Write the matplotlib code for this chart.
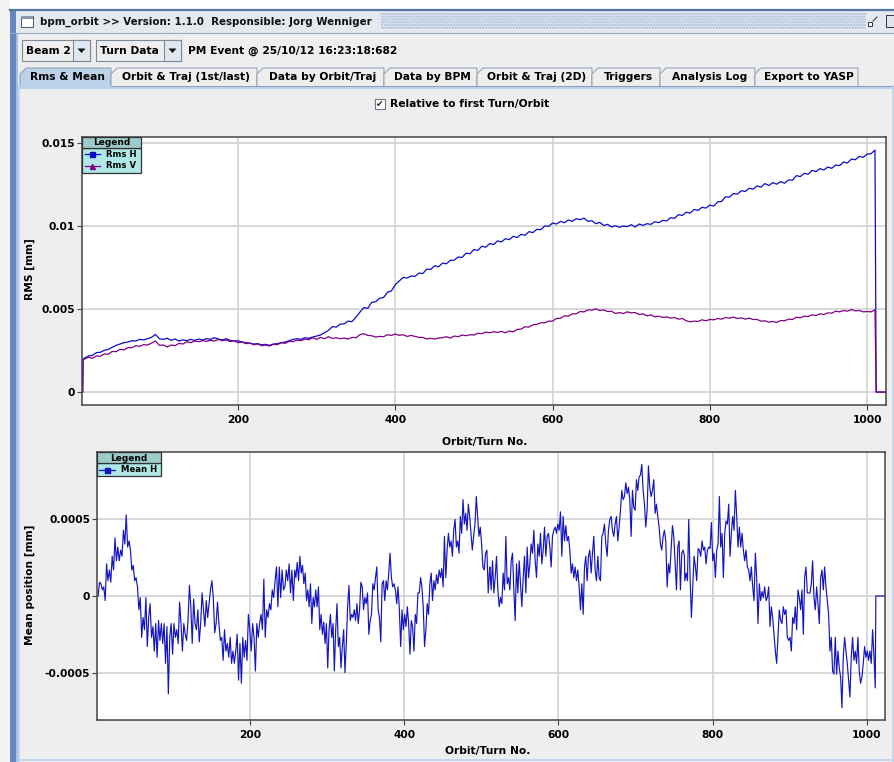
import numpy as np
import matplotlib
matplotlib.use('Agg')
import matplotlib.pyplot as plt
from matplotlib.patches import Rectangle, Polygon

plt.rcParams['font.family'] = ['DejaVu Sans']
plt.rcParams['font.weight'] = 'bold'
plt.rcParams['hatch.linewidth'] = 1.0

W, H = 895, 762

# ---------------- data ----------------
# RMS values in units of 1e-3 mm, every 5 turns from turn 5 to 1010
rms_h_core = [
    2.05, 2.18, 2.22, 2.38, 2.40, 2.52, 2.58, 2.70, 2.82, 2.90,
    2.98, 3.02, 3.10, 3.08, 3.18, 3.15, 3.22, 3.30, 3.48, 3.22,
    3.18, 3.25, 3.12, 3.20, 3.08, 3.15, 3.10, 3.18, 3.12, 3.20,
    3.14, 3.22, 3.18, 3.28, 3.20, 3.15, 3.22, 3.12, 3.08, 3.10,
    3.02, 2.98, 2.95, 2.90, 2.92, 2.85, 2.88, 2.82, 2.90, 2.92,
    2.98, 3.02, 3.10, 3.18, 3.22, 3.18, 3.28, 3.25, 3.32, 3.38,
    3.45, 3.58, 3.72, 3.95, 3.92, 4.10, 4.12, 4.28, 4.25, 4.52,
    4.82, 5.10, 5.05, 5.42, 5.45, 5.66, 5.70, 6.02, 6.10, 6.48,
    6.70, 6.92, 6.88, 7.00, 6.98, 7.18, 7.15, 7.42, 7.40, 7.62,
    7.56, 7.78, 7.74, 7.95, 7.96, 8.15, 8.12, 8.38, 8.35, 8.60,
    8.55, 8.80, 8.74, 8.96, 8.90, 9.12, 9.06, 9.25, 9.20, 9.40,
    9.32, 9.52, 9.46, 9.68, 9.62, 9.82, 9.80, 10.02, 10.00, 10.20,
    10.14, 10.30, 10.22, 10.38, 10.30, 10.46, 10.40, 10.50, 10.30, 10.34,
    10.16, 10.24, 10.05, 10.12, 9.96, 10.04, 9.94, 10.02, 9.98, 10.10,
    9.96, 10.14, 10.06, 10.16, 10.12, 10.28, 10.22, 10.36, 10.32, 10.52,
    10.48, 10.70, 10.66, 10.85, 10.80, 11.02, 10.96, 11.15, 11.10, 11.28,
    11.22, 11.48, 11.50, 11.78, 11.76, 11.98, 11.94, 12.15, 12.10, 12.30,
    12.24, 12.44, 12.36, 12.58, 12.46, 12.64, 12.54, 12.70, 12.60, 12.80,
    12.78, 13.06, 13.00, 13.20, 13.14, 13.38, 13.30, 13.48, 13.40, 13.58,
    13.50, 13.70, 13.66, 13.88, 13.82, 14.06, 14.02, 14.22, 14.16, 14.36,
    14.38, 14.60]

rms_v_core = [
    2.00, 2.10, 2.04, 2.18, 2.16, 2.30, 2.28, 2.45, 2.44, 2.58,
    2.55, 2.68, 2.68, 2.80, 2.76, 2.86, 2.84, 2.95, 3.08, 2.82,
    2.84, 2.72, 2.84, 2.80, 2.94, 2.90, 3.04, 2.98, 3.08, 3.04,
    3.10, 3.06, 3.12, 3.08, 3.18, 3.10, 3.14, 3.05, 3.10, 2.98,
    3.02, 2.92, 2.96, 2.85, 2.90, 2.80, 2.84, 2.78, 2.88, 2.86,
    2.98, 2.94, 3.06, 3.04, 3.14, 3.10, 3.20, 3.16, 3.28, 3.18,
    3.30, 3.22, 3.34, 3.24, 3.28, 3.22, 3.26, 3.20, 3.30, 3.28,
    3.46, 3.52, 3.42, 3.40, 3.32, 3.36, 3.34, 3.46, 3.42, 3.50,
    3.42, 3.46, 3.36, 3.42, 3.36, 3.30, 3.30, 3.20, 3.24, 3.20,
    3.26, 3.28, 3.34, 3.26, 3.38, 3.34, 3.44, 3.40, 3.46, 3.44,
    3.55, 3.52, 3.62, 3.58, 3.64, 3.60, 3.66, 3.58, 3.68, 3.64,
    3.78, 3.80, 3.94, 3.92, 4.06, 4.08, 4.18, 4.18, 4.28, 4.28,
    4.44, 4.45, 4.60, 4.58, 4.72, 4.72, 4.86, 4.84, 4.96, 4.94,
    5.02, 4.92, 4.96, 4.86, 4.88, 4.74, 4.80, 4.74, 4.84, 4.78,
    4.80, 4.68, 4.72, 4.60, 4.66, 4.54, 4.58, 4.50, 4.54, 4.46,
    4.50, 4.40, 4.44, 4.30, 4.24, 4.28, 4.26, 4.36, 4.30, 4.38,
    4.36, 4.44, 4.40, 4.50, 4.46, 4.52, 4.44, 4.48, 4.40, 4.46,
    4.38, 4.38, 4.28, 4.30, 4.22, 4.26, 4.20, 4.32, 4.30, 4.40,
    4.38, 4.52, 4.48, 4.58, 4.56, 4.66, 4.62, 4.72, 4.68, 4.78,
    4.76, 4.88, 4.84, 4.92, 4.88, 4.98, 4.90, 4.92, 4.84, 4.86,
    4.84, 4.96]

rms_first_turn, rms_last_turn = 5, 1010
rms_start_turns = [2.5, 3.0]
rms_h_start = [0.0, 2.0]
rms_v_start = [0.0, 1.95]
end_turns = [1011.5, 1024]
end_values = [0.0, 0.0]

# Mean H in units of 1e-4 mm, four consecutive stretches of turns
mean_h_seg1 = [0.0, 0.9, 0.8, 0.4, 0.6, -0.3, 2.1, 1.0, 1.7, 0.9, 2.6, 1.7, 3.8, 2.3, 3.2, 2.3, 3.0, 2.6,
               4.3, 3.4, 5.3, 3.2, 3.6, 3.0, 1.7, 2.0, 1.0, 1.2, 0.6, -0.9, -0.1, -2.7, -1.4, -2.2, -0.1,
               -3.3, -1.4, -0.5, -2.7, -2.0, -3.6, -1.8, -4.0, -1.6, -2.9, -1.8, -3.1, -1.8, -4.4, -2.0,
               -6.4, -2.7, -1.8, -3.8, -1.8, -2.7, -2.2, -3.1, -0.4, -1.8, -3.6, -1.8, -2.5, -2.9, -1.6,
               0.7, -0.7, -3.1, -0.2, -1.8, -2.2, -0.9, -3.0, -1.8, 0.2, -0.9, -2.0, -0.3, -1.4, -0.5,
               0.4, 1.0, -0.1, -2.4, -1.8, -0.4, -1.8, -2.9, -2.7, -4.2, -2.2, -3.6, -3.1, -4.0, -2.7,
               -4.4, -3.6, -4.4, -3.6, -2.5, -5.5, -3.1, -5.7, -2.7, -4.0, -2.9, -4.2, -1.2, -2.2, -3.6,
               -1.8, -2.7, -4.9, -1.8, -2.7, -1.8, -1.2, -2.2, 1.1, -2.7, -0.9, -1.4, -0.5, -0.9, 0.4,
               -0.1, 1.0, 1.9, -0.7, 1.9, -0.1, 1.7, 0.4, 0.6, 1.7, 1.0, 2.1, 0.2, 1.7, -0.3, 1.7]
mean_h_seg2 = [1.2, 2.2, 1.0, 2.6, 1.5, 2.0, 0.8, 1.5, -0.3, 0.4, -0.7, 0.8, -1.8, -0.1, -0.7, 0.4, -0.7,
               0.6, -2.2, -1.2, -2.5, -1.7, -3.1, -1.8, -4.7, -2.2, -1.2, -2.7, -1.8, -4.9, -2.2, -0.5,
               -3.3, -2.7, -4.7, -3.3, -2.2, -5.0, -3.1, -0.7, 0.7, -1.6, -1.2, -1.4, -0.9, -1.6, -0.5,
               -1.8, -0.9, 0.9, 0.6, -0.9, -0.1, -0.5, 0.2, -2.5, -1.6, -1.2, 0.8, 0.4, 1.2, 1.9, -0.9,
               -1.4, -3.0, 0.8, 1.0, -0.3, 1.0, 0.4, 1.5, 2.8, 1.2, 0.6, 0.8, 0.4, -0.5, 0.6, -0.9, -3.3,
               -0.9, -2.2, -1.2, -2.0, -0.7, -1.8, -3.8, -1.6, -2.0, -3.6, -1.2, -1.8, 0.2, 0.2, 1.2, 0.6,
               -0.7, -3.3, -2.2, -0.5, -1.2, 0.8, 1.5, -0.3, 1.0, 0.4, 1.4, 0.8, 1.7, 1.2, 1.8, 0.6, 3.9,
               1.2, 3.0, 4.1, 3.2, 3.6, 2.6, 4.3, 5.0, 3.2, 3.6, 2.8, 5.2, 4.1, 6.3, 4.7, 5.4, 4.3, 6.0,
               5.2, 4.1, 3.0, 3.9, 4.7, 6.5, 5.2, 3.9, 4.5, 3.4, 1.9, 1.7, 2.8, 3.0, 0.2, 1.7]
mean_h_seg3 = [1.9, 0.4, 2.3, 0.2, 1.2, 2.6, 0.4, -0.7, -0.1, -0.5, 1.5, 0.4, 3.9, 0.8, 1.2, 0.4, 2.3, 2.8,
               0.4, -1.6, 2.1, 0.2, 2.3, 0.8, -0.7, 1.2, 2.6, 0.2, 3.2, 1.2, 2.1, 3.4, 2.8, 4.3, 2.3, 1.2,
               3.4, 2.6, 4.1, 2.1, 3.0, 4.5, 2.6, 3.9, 4.1, 3.2, 1.9, 3.9, 4.3, 4.5, 4.1, 4.7, 4.3, 5.5,
               2.6, 5.2, 3.6, 4.6, 3.6, 3.9, 3.0, 1.5, 2.1, 1.2, 1.9, 1.0, 1.7, 0.6, -0.9, 0.8, -1.2, 1.9,
               2.6, 1.0, 2.6, 3.0, 1.5, 2.8, 3.9, 1.7, 1.0, 2.6, 1.2, 1.0, 3.9, 4.1, 4.7, 3.4, 2.6, 4.3,
               5.0, 5.2, 4.3, 3.9, 4.7, 5.2, 3.6, 4.5, 5.6, 6.9, 6.3, 6.5, 7.4, 6.7, 7.1, 6.3, 3.9, 6.9,
               5.8, 5.6, 7.6, 6.9, 7.8, 7.9, 8.6, 6.9, 6.0, 4.5, 5.6, 8.5, 7.1, 6.5, 6.9, 7.6, 5.4, 6.0,
               5.2, 4.5, 3.4, 3.0, 3.9, 4.3, 3.6, 0.6, 2.1, 1.5, 3.0, 4.6, 3.9, 2.1, 0.4, 3.2, 3.6, 0.4,
               2.8, 3.0, 2.6]
mean_h_seg4 = [1.0, 1.5, 1.0, 5.0, 1.2, -1.4, 0.6, 2.6, 1.9, 1.0, 3.1, 3.0, 2.6, 3.6, 3.0, 3.2, 2.1, 3.0,
               3.2, 3.1, 4.8, 2.3, 2.8, 1.2, 3.0, 3.4, 6.5, 3.2, 4.1, 1.2, 4.1, 4.9, 4.7, 6.0, 2.6, 4.1,
               5.2, 4.3, 6.9, 5.2, 3.2, 4.5, 3.2, 4.1, 3.0, 2.3, 3.0, 1.9, 1.7, 1.0, 1.9, 0.6, -0.3, 2.8,
               1.2, -1.8, 0.8, -0.3, 0.3, -0.1, 0.6, -0.3, -0.1, 0.6, -2.0, -0.7, -1.4, -2.5, -3.6, -4.4,
               -2.7, -0.9, -1.6, -1.8, -0.7, -1.2, -0.9, -2.7, -2.9, -2.7, -3.6, -1.4, -1.8, -0.7, -2.2,
               0.4, -0.1, -0.9, 0.4, -2.5, 1.2, 1.9, 0.2, 0.2, 0.2, 0.8, 2.3, -0.1, -0.9, 0.6, -0.5, -1.8,
               1.2, 1.7, 0.4, 1.9, 0.6, -0.3, -1.2, -3.6, -2.7, -4.9, -5.1, -2.7, -5.1, -3.6, -4.7, -5.3,
               -7.3, -4.0, -2.7, -3.6, -4.4, -5.5, -6.6, -4.0, -2.7, -4.2, -3.6, -4.4, -2.7, -4.9, -5.7,
               -5.3, -4.4, -3.3, -4.0, -3.6, -4.2, -3.6, -4.4, -2.2, -3.8, -6.0]
mean_h_seg_turns = [(3.1, 258.0), (259.5, 510.6), (511.0, 763.3), (763.7, 1010.7)]

xticks = [200, 400, 600, 800, 1000]
rms_yticks = [0, 0.005, 0.01, 0.015]
rms_yticklabels = ['0', '0.005', '0.01', '0.015']
mean_yticks = [-0.0005, 0, 0.0005]
mean_yticklabels = ['-0.0005', '0', '0.0005']

window_title = 'bpm_orbit >> Version: 1.1.0  Responsible: Jorg Wenniger'
combo_items = ['Beam 2', 'Turn Data']
event_text = 'PM Event @ 25/10/12 16:23:18:682'
tab_names = ['Rms & Mean', 'Orbit & Traj (1st/last)', 'Data by Orbit/Traj', 'Data by BPM',
             'Orbit & Traj (2D)', 'Triggers', 'Analysis Log', 'Export to YASP']
checkbox_text = 'Relative to first Turn/Orbit'

# ---------------- build series ----------------
rms_h_turns = np.concatenate([rms_start_turns,
                              np.linspace(rms_first_turn, rms_last_turn, len(rms_h_core)), end_turns])
rms_v_turns = np.concatenate([rms_start_turns,
                              np.linspace(rms_first_turn, rms_last_turn, len(rms_v_core)), end_turns])
rms_h = np.concatenate([rms_h_start, rms_h_core, end_values]) * 1e-3
rms_v = np.concatenate([rms_v_start, rms_v_core, end_values]) * 1e-3

mean_turns = []
mean_vals = []
for seg, (a, b) in zip([mean_h_seg1, mean_h_seg2, mean_h_seg3, mean_h_seg4], mean_h_seg_turns):
    mean_turns.append(np.linspace(a, b, len(seg)))
    mean_vals.append(np.asarray(seg))
mean_turns = np.concatenate(mean_turns + [np.asarray(end_turns)])
mean_h = np.concatenate(mean_vals + [np.asarray(end_values)]) * 1e-4

# ---------------- figure ----------------
FS = 7.7
fig = plt.figure(figsize=(W / 100, H / 100), dpi=100, facecolor='#eeeeee')
bg = fig.add_axes([0, 0, 1, 1], zorder=0)
bg.set_xlim(0, W)
bg.set_ylim(H, 0)
bg.axis('off')


def rect(ax, x, y, w, h, fc, ec='none', lw=0.0, **kw):
    ax.add_patch(Rectangle((x, y), w, h, facecolor=fc, edgecolor=ec, linewidth=lw, **kw))


# top white strip and window frame
rect(bg, 0, 0, W, 9, '#ffffff')
rect(bg, 0, 0, 10, H, '#f4f4f4')
rect(bg, 10, 9, W - 10, 24, '#e4e9f0')
rect(bg, 381, 13, 485, 16, '#dbe3ee', ec='#a9bcd4', lw=0, hatch='......')
bg.plot([10, W], [9.5, 9.5], color='#56779f', lw=1.6)
bg.plot([10, W], [33, 33], color='#9aaac0', lw=0.8)
rect(bg, 10, 9, 6, H, '#6688c0')
rect(bg, 16, 33, 2.5, H, '#a9c0e0')
# title icon
rect(bg, 21, 16, 12, 11, '#ffffff', ec='#555555', lw=0.7)
rect(bg, 21, 16, 12, 2.5, '#8899aa')
bg.text(40, 21.5, window_title, fontsize=7.4, va='center', ha='left', color='#111111')
# right corner icons
rect(bg, 868, 22, 4, 4, '#ffffff', ec='#333333', lw=0.7)
bg.plot([873, 877], [21, 17], color='#333333', lw=0.7)
rect(bg, 886, 15, 9, 12, '#dfe5ee', ec='#333333', lw=0.7)


def combo(x0, x1, xb, text):
    rect(bg, x0, 40, x1 - x0, 21, '#eeeeee', ec='#7a8a99', lw=0.8)
    rect(bg, xb, 40, x1 - xb, 21, '#e0e7ef', ec='#7a8a99', lw=0.8)
    cx = (xb + x1) / 2
    bg.add_patch(Polygon([(cx - 4, 48.5), (cx + 4, 48.5), (cx, 53)], closed=True,
                         facecolor='#111111', edgecolor='none'))
    bg.text(x0 + 4, 51, text, fontsize=FS, va='center', ha='left')


combo(22, 90, 73, combo_items[0])
combo(96, 181, 164, combo_items[1])
bg.text(188, 51, event_text, fontsize=FS, va='center', ha='left')

# tabs
tab_edges = [20, 111, 257, 384, 477, 592, 660, 755, 858]
for i, name in enumerate(tab_names):
    x0, x1 = tab_edges[i], tab_edges[i + 1]
    fc = '#bcd2e8' if i == 0 else '#eeeeee'
    bg.add_patch(Polygon([(x0, 87), (x0, 74), (x0 + 6, 68), (x1, 68), (x1, 87)], closed=True,
                         facecolor=fc, edgecolor='#8c9db3', linewidth=0.7))
    bg.text((x0 + x1) / 2 + 2, 77.5, name, fontsize=FS, va='center', ha='center')
rect(bg, 19, 86, W - 19, 3, '#bcd2e8')
bg.plot([111, W], [86, 86], color='#8c9db3', lw=0.7)
bg.plot([19, 19], [86, H], color='#bcd2e8', lw=1.2)
bg.plot([19, W], [760, 760], color='#bcd2e8', lw=1.2)
bg.plot([893, 893], [86, H], color='#bcd2e8', lw=1.2)

# checkbox
rect(bg, 375, 99, 10, 10, '#ffffff', ec='#6a7a8a', lw=0.8)
bg.text(380, 104.5, '\u2714', fontsize=6.5, va='center', ha='center', color='#222222')
bg.text(390, 104.5, checkbox_text, fontsize=FS, va='center', ha='left')


# ---------------- plots ----------------
def style_axes(ax):
    ax.set_facecolor('#ffffff')
    for s in ax.spines.values():
        s.set_color('#444444')
        s.set_linewidth(1.1)
    ax.grid(True, color='#d2d2d2', linewidth=1.2)
    ax.set_axisbelow(True)
    ax.tick_params(direction='out', length=3.6, width=0.8, color='#444444', labelsize=FS)
    ax.tick_params(axis='x', pad=3.5)
    ax.tick_params(axis='y', pad=1.5)
    for lab in ax.get_xticklabels() + ax.get_yticklabels():
        lab.set_fontweight('bold')


ax1 = fig.add_axes([82.3 / W, 1 - 405 / H, (886 - 82.3) / W, (405 - 136.5) / H], zorder=2)
ax1.plot(rms_h_turns, rms_h, color='#0c0cc8', lw=0.9)
ax1.plot(rms_v_turns, rms_v, color='#820082', lw=0.9)
ax1.set_xlim(2, 1024)
ax1.set_ylim(-0.00078, 0.01542)
ax1.set_xticks(xticks)
ax1.set_xticklabels([str(t) for t in xticks])
ax1.set_yticks(rms_yticks)
ax1.set_yticklabels(rms_yticklabels)
style_axes(ax1)

ax2 = fig.add_axes([97.3 / W, 1 - 720 / H, (885.5 - 97.3) / W, (720 - 452) / H], zorder=2)
ax2.plot(mean_turns, mean_h, color='#1515c0', lw=0.85)
ax2.set_xlim(2, 1024)
ax2.set_ylim(-0.00081, 0.000941)
ax2.set_xticks(xticks)
ax2.set_xticklabels([str(t) for t in xticks])
ax2.set_yticks(mean_yticks)
ax2.set_yticklabels(mean_yticklabels)
style_axes(ax2)

# axis titles
bg.text(485, 442, 'Orbit/Turn No.', fontsize=FS, ha='center', va='center')
bg.text(488, 751, 'Orbit/Turn No.', fontsize=FS, ha='center', va='center')
bg.text(30, 269, 'RMS [mm]', fontsize=FS, ha='center', va='center', rotation=90)
bg.text(30, 585, 'Mean position [mm]', fontsize=FS, ha='center', va='center', rotation=90)

# ---------------- legends (overlay) ----------------
ov = fig.add_axes([0, 0, 1, 1], zorder=5)
ov.set_xlim(0, W)
ov.set_ylim(H, 0)
ov.axis('off')
ov.patch.set_alpha(0)


def legend_box(x0, x1, y0, yh, y1, entries):
    rect(ov, x0, yh, x1 - x0, y1 - yh, '#b0e8e8', ec='#333333', lw=0.9)
    rect(ov, x0, y0, x1 - x0, yh - y0, '#9ccbcb', ec='#333333', lw=0.9)
    ov.text((x0 + x1) / 2, (y0 + yh) / 2 + 0.3, 'Legend', fontsize=6.5, ha='center', va='center')
    for (yy, color, marker, label, lx0, lx1, tx) in entries:
        ov.plot([lx0, lx1], [yy, yy], color=color, lw=0.9)
        ov.plot([(lx0 + lx1) / 2], [yy], marker=marker, color=color, markersize=3.6)
        ov.text(tx, yy, label, fontsize=6.1, ha='left', va='center')


legend_box(82.3, 141, 136.5, 147.7, 172.5,
           [(154.3, '#0c0cc8', 's', 'Rms H', 85, 100, 106.5),
            (165.7, '#820082', '^', 'Rms V', 85, 100, 106.5)])
legend_box(97.3, 160.7, 452.3, 463.3, 476,
           [(470, '#1515c0', 's', 'Mean H', 99.5, 115, 121.5)])

fig.savefig('out.png', dpi=100, facecolor=fig.get_facecolor())
